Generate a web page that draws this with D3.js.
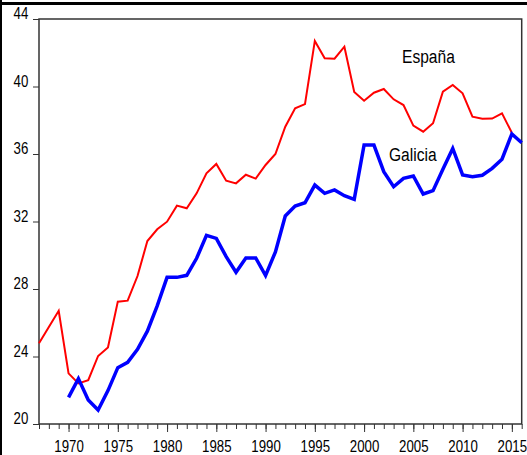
<!DOCTYPE html>
<html>
<head>
<meta charset="utf-8">
<script src="https://cdn.jsdelivr.net/npm/d3@7"></script>
<style>
  body { margin: 0; background: #fff; }
  text { font-family: "Liberation Sans", Arial, sans-serif; }
</style>
</head>
<body>
<div id="chart"></div>
<script>
let espanaYears = d3.range(1967, 2016);
let espanaValues = [24.78, 25.75, 26.71, 23.0, 22.41, 22.6, 24.03, 24.54, 27.25, 27.31,
  28.77, 30.84, 31.54, 31.99, 32.94, 32.78, 33.67, 34.86, 35.41, 34.42,
  34.26, 34.77, 34.54, 35.35, 36.0, 37.62, 38.71, 38.96, 42.7, 41.67,
  41.65, 42.36, 39.67, 39.16, 39.63, 39.85, 39.24, 38.9, 37.68, 37.32,
  37.82, 39.69, 40.09, 39.6, 38.21, 38.09, 38.1, 38.41, 37.26];

let galiciaYears = d3.range(1970, 2017);
let galiciaValues = [21.58, 22.69, 21.42, 20.83, 21.98, 23.34, 23.65, 24.42, 25.5, 27.0,
  28.69, 28.69, 28.81, 29.82, 31.18, 31.0, 29.92, 28.99, 29.84, 29.84,
  28.8, 30.2, 32.33, 32.92, 33.11, 34.16, 33.67, 33.87, 33.53, 33.31,
  36.53, 36.53, 34.95, 34.06, 34.56, 34.7, 33.63, 33.83, 35.09, 36.33,
  34.76, 34.66, 34.74, 35.15, 35.69, 37.19, 36.67];

let yTicks = [20, 24, 28, 32, 36, 40, 44];
let xTicks = [1970, 1975, 1980, 1985, 1990, 1995, 2000, 2005, 2010, 2015];

let width = 527,
  height = 455,
  plot = {"left": 39, "top": 19, "right": 521.7, "bottom": 424},
  squeeze = 0.78;   // the reference text is horizontally condensed

const svg = d3.select("#chart")
  .append("svg")
  .attr("width", width)
  .attr("height", height);

let x = d3.scaleLinear().domain([1967, 2016]).range([plot.left, plot.right]);
let y = d3.scaleLinear().domain([20, 44]).range([plot.bottom, plot.top]);

// outer frame pieces
svg.append("line")
  .attr("x1", 0).attr("x2", width).attr("y1", 3.5).attr("y2", 3.5)
  .attr("stroke", "#000").attr("stroke-width", 3);
svg.append("line")
  .attr("x1", 1).attr("x2", 1).attr("y1", 0).attr("y2", height)
  .attr("stroke", "#000").attr("stroke-width", 2);

// minor year ticks
svg.append("g")
  .attr("transform", "translate(0," + plot.bottom + ")")
  .call(d3.axisBottom(x).tickValues(d3.range(1967, 2017)).tickSize(5).tickFormat(""))
  .call(g => g.select(".domain").remove())
  .call(g => g.selectAll("line").attr("stroke", "#333"));

const xAxis = svg.append("g")
  .attr("transform", "translate(0," + plot.bottom + ")")
  .call(d3.axisBottom(x).tickValues(xTicks).tickSize(8).tickPadding(8).tickFormat(d3.format("d")));
xAxis.select(".domain").remove();
xAxis.selectAll("line").attr("stroke", "#333");
xAxis.selectAll("text")
  .style("font-size", "17px")
  .attr("fill", "#000")
  .attr("transform", "scale(" + squeeze + ",1)");

const yAxis = svg.append("g")
  .attr("transform", "translate(" + plot.left + ",0)")
  .call(d3.axisLeft(y).tickValues(yTicks).tickSize(6));
yAxis.select(".domain").remove();
yAxis.selectAll("line").attr("stroke", "#333");
yAxis.selectAll("text")
  .style("font-size", "17px")
  .attr("fill", "#000")
  .attr("x", -10.7 / squeeze)
  .attr("dy", "-0.02em")
  .attr("transform", "scale(" + squeeze + ",1)");

// plot frame
svg.append("rect")
  .attr("x", plot.left).attr("y", plot.top)
  .attr("width", plot.right - plot.left).attr("height", plot.bottom - plot.top)
  .attr("fill", "none").attr("stroke", "#333").attr("stroke-width", 1.5);

let line = d3.line()
  .x(d => x(d[0]))
  .y(d => y(d[1]));

svg.append("path")
  .datum(d3.zip(espanaYears, espanaValues))
  .attr("d", line)
  .attr("fill", "none")
  .attr("stroke", "#ff0000")
  .attr("stroke-width", 2);

svg.append("path")
  .datum(d3.zip(galiciaYears, galiciaValues))
  .attr("d", line)
  .attr("fill", "none")
  .attr("stroke", "#0000ff")
  .attr("stroke-width", 3.5);

svg.append("text")
  .text("España")
  .attr("transform", "translate(402,63) scale(0.82,1)")
  .style("font-size", "19px");

svg.append("text")
  .text("Galicia")
  .attr("transform", "translate(389,161) scale(0.82,1)")
  .style("font-size", "19px");
</script>
</body>
</html>
